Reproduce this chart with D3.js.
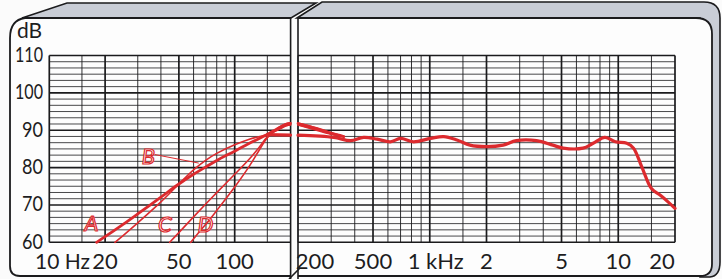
<!DOCTYPE html>
<html>
<head>
<meta charset="utf-8">
<script src="https://cdn.jsdelivr.net/npm/d3@7"></script>
<style>
  body { margin: 0; background: #fbfbfb; }
  svg { display: block; }
  text { font-family: Lato, "Open Sans", sans-serif; fill: #1d1d1f; }
</style>
</head>
<body>
<div id="chart"></div>
<script>
// frame size
const FRAME_WIDTH = 722;
const FRAME_HEIGHT = 279;

// data: sound pressure level (dB) against frequency (Hz)
const curveA = [[18, 60], [20, 61.5], [25, 64.8], [30, 67.6], [40, 72.1], [50, 75.6], [60, 78.2], [70, 80.2],
  [80, 81.9], [100, 84.4], [120, 86.5], [148, 88.7], [170, 90.4], [190, 91.6], [200, 91.8],
  [250, 90.5], [300, 89.2], [350, 88.3]];
const curveB = [[22.6, 60], [25, 61.8], [30, 65.2], [40, 70.8], [50, 75.6], [60, 79.4], [70, 82],
  [80, 83.8], [100, 86.1], [120, 87.6], [148, 88.8], [170, 90], [190, 91.2], [200, 91.5],
  [250, 90.2], [300, 89], [350, 88.3]];
const curveC = [[44.6, 60], [50, 62.6], [60, 66.8], [70, 70.3], [80, 73.3], [100, 78.2], [120, 82.3],
  [135, 85.3], [150, 88.2], [170, 90.2], [190, 91.3], [200, 91.4], [250, 90], [300, 88.9], [350, 88.3]];
const curveD = [[58, 60], [65, 63], [72, 65.6], [80, 68.5], [100, 74.8], [120, 80.4], [135, 84.5],
  [150, 88], [170, 90.5], [190, 91.8], [200, 91.9], [250, 90.6], [300, 89.3], [350, 88.3]];
const mainCurve = [[150, 88.8], [200, 88.7], [310, 88.1], [380, 87.2], [446, 88.1], [526, 87.6], [618, 86.9],
  [700, 87.8], [819, 86.9], [1010, 87.8], [1186, 88.3], [1393, 87.4], [1635, 86], [2000, 85.6],
  [2450, 86], [2880, 87.2], [3690, 87.2], [4500, 86], [5100, 85.2], [6500, 85.2], [7360, 86.5],
  [8500, 88.1], [9650, 86.9], [11100, 86.5], [12050, 85.2], [13330, 80.2], [15000, 74.4],
  [16600, 72.7], [18300, 70.9], [20000, 69.1]];

// curve letters and where they sit [letter, Hz, dB]
const curveLabels = [["A", 16.9, 65.2], ["B", 34.2, 83.1], ["C", 42, 64.9], ["D", 69.6, 64.9]];

// grid and tick values
const dbTicks = [60, 70, 80, 90, 100, 110];
const leftGridHz = [10, 15, 20, 30, 40, 50, 60, 70, 80, 90, 100, 150, 200];
const rightGridHz = [200, 300, 400, 500, 600, 700, 800, 900, 1000, 1500, 2000, 3000, 4000, 5000,
  6000, 7000, 8000, 9000, 10000, 15000, 20000];
const majorHz = [10, 20, 50, 100, 500, 1000, 2000, 5000, 10000, 20000];
const leftTickHz = [10, 20, 50, 100];
const leftTickText = ["10 Hz", "20", "50", "100"];
const rightTickHz = [200, 500, 1000, 2000, 5000, 10000, 20000];
const rightTickText = ["200", "500", "1 kHz", "2", "5", "10", "20"];

const RED = "#dc2a2e";
const INK = "#1b1b1d";

const svg = d3.select("#chart")
  .append("svg")
  .attr("width", FRAME_WIDTH)
  .attr("height", FRAME_HEIGHT);

// scales
const y = d3.scaleLinear().domain([60, 110]).range([242.3, 55.5]);
const xLeft = d3.scaleLog().domain([10, 200]).range([49.3, 290.5]);
const xRight = d3.scaleLog().domain([200, 20000]).range([298, 675]);

// ---- the two "boxes" round the chart ----
// left box top face
svg.append("path")
  .attr("d", "M22,18 L67,3 L316,3 L291,18 Z")
  .attr("fill", "#c9cdd6").attr("stroke", INK).attr("stroke-width", 1.6);
// right box back outline (top face + side)
svg.append("path")
  .attr("d", "M297,18 L322,2 L704,2 Q720,2 720,18 L720,262 Q720,276 710,277 L700,277 L700,18 Z")
  .attr("fill", "#c9cdd6").attr("stroke", INK).attr("stroke-width", 1.6);
// left box front face
svg.append("path")
  .attr("d", "M291,18 L25,18 Q10,20 10,38 L10,266 Q10,276 20,276 L291,276")
  .attr("fill", "#fdfdfd").attr("stroke", INK).attr("stroke-width", 1.8);
// right box front face
svg.append("path")
  .attr("d", "M298,276 L700,276 Q712,276 712,264 L712,34 Q712,18 696,18 L298,18")
  .attr("fill", "#fdfdfd").attr("stroke", INK).attr("stroke-width", 1.8);
// vertical edges of the break
svg.append("line").attr("x1", 290.6).attr("x2", 290.6).attr("y1", 18).attr("y2", 279)
  .attr("stroke", INK).attr("stroke-width", 1.6);
svg.append("line").attr("x1", 298).attr("x2", 298).attr("y1", 18).attr("y2", 279)
  .attr("stroke", INK).attr("stroke-width", 1.6);
svg.append("line").attr("x1", 289).attr("x2", 300).attr("y1", 279).attr("y2", 268)
  .attr("stroke", INK).attr("stroke-width", 1.6);

// ---- grid ----
const subDb = d3.range(60, 110.01, 10 / 6);

function drawGrid(xScale, gridHz) {
  const g = svg.append("g");
  const [x0, x1] = xScale.range();
  g.selectAll(".h").data(subDb).enter().append("line")
    .attr("x1", x0).attr("x2", x1)
    .attr("y1", (d) => y(d)).attr("y2", (d) => y(d))
    .attr("stroke", INK)
    .attr("stroke-width", (d) => Math.abs(d % 10) < 0.01 || Math.abs(d % 10 - 10) < 0.01 ? 1.6 : 0.8);
  g.selectAll(".v").data(gridHz).enter().append("line")
    .attr("x1", (d) => xScale(d)).attr("x2", (d) => xScale(d))
    .attr("y1", y(110)).attr("y2", y(60))
    .attr("stroke", INK)
    .attr("stroke-width", (d) => majorHz.includes(d) ? 1.7 : 0.9);
}
drawGrid(xLeft, leftGridHz);
drawGrid(xRight, rightGridHz);

// ---- axis labels ----
svg.append("text").attr("x", 17).attr("y", 38).attr("font-size", 21).text("dB");
svg.selectAll(".ylab").data(dbTicks).enter().append("text")
  .attr("x", 43).attr("y", (d) => y(d) + 6.5)
  .attr("text-anchor", "end").attr("font-size", 21)
  .attr("textLength", (d) => d >= 100 ? 28 : 21).attr("lengthAdjust", "spacingAndGlyphs")
  .text((d) => d);

svg.selectAll(".xl").data(leftTickHz).enter().append("text")
  .attr("x", (d, i) => i === 0 ? 35 : xLeft(d))
  .attr("y", 268.5)
  .attr("text-anchor", (d, i) => i === 0 ? "start" : "middle")
  .attr("font-size", 22)
  .attr("textLength", (d, i) => i === 0 ? 55 : null).attr("lengthAdjust", "spacingAndGlyphs")
  .text((d, i) => leftTickText[i]);
svg.selectAll(".xr").data(rightTickHz).enter().append("text")
  .attr("x", (d, i) => i === 0 ? 315 : i === rightTickHz.length - 1 ? 662 : (i === 2 ? xRight(d) + 6 : xRight(d)))
  .attr("y", 268.5)
  .attr("text-anchor", "middle")
  .attr("font-size", 22)
  .text((d, i) => rightTickText[i]);

// ---- curves ----
function drawCurve(data, width) {
  const leftPart = data.filter((d) => d[0] <= 200);
  const rightPart = data.filter((d) => d[0] >= 200);
  const lineL = d3.line().x((d) => xLeft(d[0])).y((d) => y(d[1])).curve(d3.curveCatmullRom);
  const lineR = d3.line().x((d) => xRight(d[0])).y((d) => y(d[1])).curve(d3.curveCatmullRom);
  if (leftPart.length > 1) {
    svg.append("path").datum(leftPart).attr("d", lineL)
      .attr("fill", "none").attr("stroke", RED).attr("stroke-width", width)
      .attr("stroke-linecap", "round").attr("stroke-linejoin", "round");
  }
  if (rightPart.length > 1) {
    svg.append("path").datum(rightPart).attr("d", lineR)
      .attr("fill", "none").attr("stroke", RED).attr("stroke-width", width)
      .attr("stroke-linecap", "round").attr("stroke-linejoin", "round");
  }
}
drawCurve(curveA, 2.8);
drawCurve(curveB, 1.6);
drawCurve(curveC, 1.6);
drawCurve(curveD, 1.6);
drawCurve(mainCurve, 3.2);

// curve letters, hollow red italics
svg.selectAll(".clab").data(curveLabels).enter().append("text")
  .attr("x", (d) => xLeft(d[1])).attr("y", (d) => y(d[2]) + 8)
  .attr("font-size", 22).attr("font-style", "italic")
  .style("fill", "#fff").attr("stroke", RED).attr("stroke-width", 1.2)
  .attr("text-anchor", "middle")
  .text((d) => d[0]);
// pointer from B to its curve
svg.append("line")
  .attr("x1", xLeft(37)).attr("y1", y(83.5))
  .attr("x2", xLeft(64)).attr("y2", y(81.2))
  .attr("stroke", RED).attr("stroke-width", 1);
</script>
</body>
</html>
